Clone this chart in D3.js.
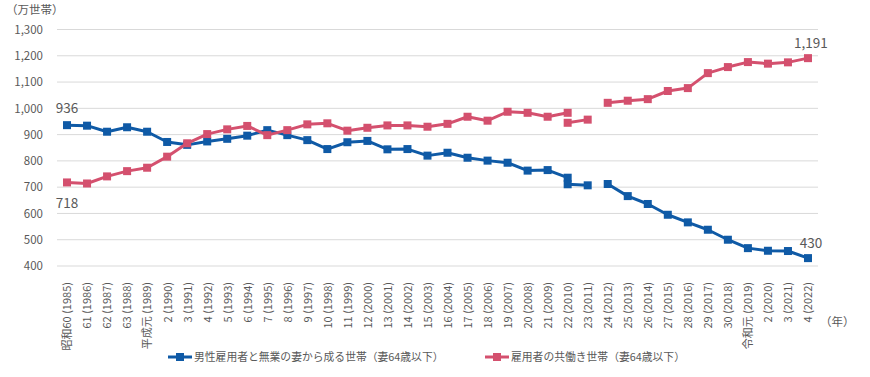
<!DOCTYPE html>
<html>
<head>
<meta charset="utf-8">
<script src="https://cdn.jsdelivr.net/npm/d3@7"></script>
<style>
  body { margin: 0; background: #fff; }
  svg { display: block; }
</style>
</head>
<body>
<div id="chart"></div>
<script>
// Data
var years = d3.range(1985, 2023);
var eraLabels = ['昭和60', '61', '62', '63', '平成元', '2', '3', '4', '5', '6', '7', '8', '9', '10',
  '11', '12', '13', '14', '15', '16', '17', '18', '19', '20', '21', '22', '23', '24', '25', '26',
  '27', '28', '29', '30', '令和元', '2', '3', '4'];

// 男性雇用者と無業の妻から成る世帯（妻64歳以下）
var maleSingle = [936, 934, 911, 928, 911, 872, 861, 874, 884, 896, 917, 898, 879, 845, 871, 876,
  844, 845, 820, 831, 812, 801, 793, 763, 765, 736, 707, 712, 666, 636, 595, 566, 538, 500, 468,
  458, 457, 430];
var maleSingle2010b = 711;

// 雇用者の共働き世帯（妻64歳以下）
var dualEarner = [718, 714, 741, 761, 774, 816, 867, 902, 920, 933, 898, 917, 939, 943, 915, 926,
  935, 935, 930, 941, 968, 953, 987, 983, 968, 983, 957, 1021, 1029, 1035, 1066, 1077, 1134, 1157,
  1176, 1170, 1175, 1191];
var dualEarner2010b = 945;

var yTicks = [400, 500, 600, 700, 800, 900, 1000, 1100, 1200, 1300];

var attrs = {
  svgWidth: 870,
  svgHeight: 377,
  plotLeft: 57,
  plotRight: 818,
  plotTop: 29.5,
  plotBottom: 266,
  blue: '#0f5aa6',
  red: '#d4506e',
  grid: '#d9d9d9',
  textFill: '#595959',
  font: '"Noto Sans CJK JP", "Noto Sans", sans-serif'
};

// split a series into segments: 1985-2010, 2010(adj)-2011, 2012-2022
function segments(values, adj2010) {
  var i2010 = years.indexOf(2010), i2011 = years.indexOf(2011);
  var pts = values.map((v, i) => ({ year: years[i], value: v }));
  return [
    pts.slice(0, i2010 + 1),
    [{ year: 2010, value: adj2010 }, pts[i2011]],
    pts.slice(i2011 + 1)
  ];
}

var series = [
  { name: '男性雇用者と無業の妻から成る世帯（妻64歳以下）', color: attrs.blue, segs: segments(maleSingle, maleSingle2010b) },
  { name: '雇用者の共働き世帯（妻64歳以下）', color: attrs.red, segs: segments(dualEarner, dualEarner2010b) }
];

var xScale = d3.scalePoint()
  .domain(years)
  .range([attrs.plotLeft, attrs.plotRight])
  .padding(0.5);

var yScale = d3.scaleLinear()
  .domain([400, 1300])
  .range([attrs.plotBottom, attrs.plotTop]);

var svg = d3.select('#chart').append('svg')
  .attr('width', attrs.svgWidth)
  .attr('height', attrs.svgHeight)
  .attr('font-family', attrs.font);

// grid lines
svg.append('g').selectAll('line')
  .data(yTicks)
  .enter().append('line')
  .attr('x1', attrs.plotLeft)
  .attr('x2', attrs.plotRight)
  .attr('y1', d => yScale(d))
  .attr('y2', d => yScale(d))
  .attr('stroke', attrs.grid)
  .attr('stroke-width', 1);

// y axis labels
var yAxis = d3.axisLeft(yScale)
  .tickValues(yTicks)
  .tickFormat(d3.format(','))
  .tickSize(0)
  .tickPadding(0);

var yAxisLayer = svg.append('g')
  .attr('transform', 'translate(43,0)')
  .call(yAxis);
yAxisLayer.select('.domain').remove();
yAxisLayer.selectAll('text')
  .attr('fill', attrs.textFill)
  .attr('font-size', '11.5px')
  .attr('font-family', attrs.font);

svg.append('text')
  .attr('x', 6)
  .attr('y', 14)
  .attr('fill', attrs.textFill)
  .attr('font-size', '11.5px')
  .text('（万世帯）');

// x axis labels (rotated)
var xAxis = d3.axisBottom(xScale)
  .tickSize(0)
  .tickPadding(0)
  .tickFormat((d, i) => eraLabels[i] + ' (' + d + ')');

var xAxisLayer = svg.append('g')
  .attr('transform', 'translate(0,282)')
  .call(xAxis);
xAxisLayer.select('.domain').remove();
xAxisLayer.selectAll('text')
  .attr('fill', attrs.textFill)
  .attr('font-size', '11px')
  .attr('font-family', attrs.font)
  .attr('transform', 'rotate(-90)')
  .attr('text-anchor', 'end')
  .attr('x', 0)
  .attr('y', 0)
  .attr('dy', '0.35em');

svg.append('text')
  .attr('x', 820)
  .attr('y', 326)
  .attr('fill', attrs.textFill)
  .attr('font-size', '11.5px')
  .text('（年）');

// lines and markers
var line = d3.line()
  .x(d => xScale(d.year))
  .y(d => yScale(d.value));

series.forEach(s => {
  var g = svg.append('g');
  g.selectAll('path')
    .data(s.segs)
    .enter().append('path')
    .attr('d', line)
    .attr('fill', 'none')
    .attr('stroke', s.color)
    .attr('stroke-width', 3)
    .attr('stroke-linejoin', 'round');
  g.selectAll('rect')
    .data(d3.merge(s.segs))
    .enter().append('rect')
    .attr('x', d => xScale(d.year) - 4)
    .attr('y', d => yScale(d.value) - 4)
    .attr('width', 8)
    .attr('height', 8)
    .attr('fill', s.color);
});

// end labels
var first = years[0], last = years[years.length - 1];
var labels = [
  { year: first, value: maleSingle[0], dy: -17 },
  { year: first, value: dualEarner[0], dy: 21 },
  { year: last, value: maleSingle[maleSingle.length - 1], dy: -15 },
  { year: last, value: dualEarner[dualEarner.length - 1], dy: -15 }
];
svg.append('g').selectAll('text')
  .data(labels)
  .enter().append('text')
  .attr('x', d => xScale(d.year) + (d.year === last ? 3 : 0))
  .attr('y', d => yScale(d.value) + d.dy)
  .attr('text-anchor', 'middle')
  .attr('dy', '0.35em')
  .attr('fill', attrs.textFill)
  .attr('font-size', '13.5px')
  .text(d => d3.format(',')(d.value));

// legend
var legendItems = [
  { s: series[0], x: 168 },
  { s: series[1], x: 485 }
];
var legend = svg.append('g').attr('transform', 'translate(0,357)');
var li = legend.selectAll('g')
  .data(legendItems)
  .enter().append('g')
  .attr('transform', d => 'translate(' + d.x + ',0)');
li.append('line')
  .attr('x1', 0).attr('x2', 24)
  .attr('stroke', d => d.s.color)
  .attr('stroke-width', 3);
li.append('rect')
  .attr('x', 8).attr('y', -4)
  .attr('width', 8).attr('height', 8)
  .attr('fill', d => d.s.color);
li.append('text')
  .attr('x', 26)
  .attr('dy', '0.35em')
  .attr('fill', attrs.textFill)
  .attr('font-size', '10.8px')
  .text(d => d.s.name);
</script>
</body>
</html>
